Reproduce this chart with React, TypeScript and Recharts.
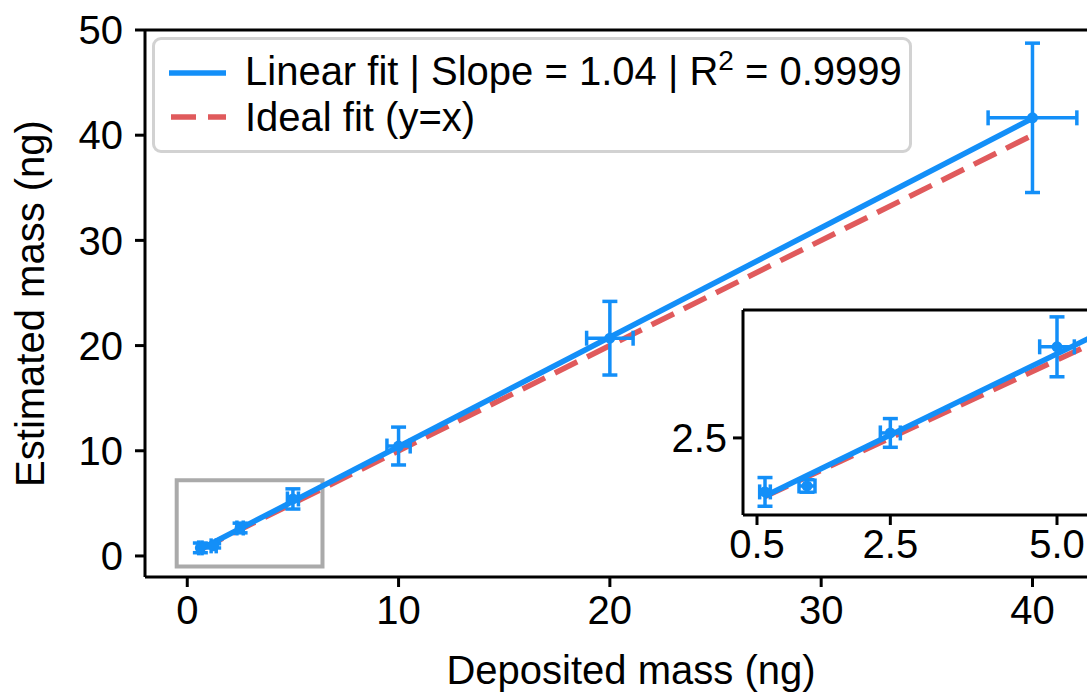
import {
  ComposedChart,
  Line,
  Scatter,
  ErrorBar,
  XAxis,
  YAxis,
  ReferenceLine,
  ReferenceArea,
  Label
} from "recharts";

const deposited = [0.62, 1.25, 2.5, 5, 10, 20, 40];
const estimated = [0.77, 0.96, 2.66, 5.42, 10.45, 20.7, 41.65];
const depositedErr = [0.08, 0.12, 0.15, 0.26, 0.55, 1.1, 2.1];
const estimatedErr = [0.46, 0.2, 0.46, 0.96, 1.8, 3.5, 7.1];

// fit line end points
const fitX = [0.62, 40];
const linearFitY = [0.64, 41.6];
const idealFitY = [0.62, 40];

const mainXTicks = [0, 10, 20, 30, 40];
const mainYTicks = [0, 10, 20, 30, 40, 50];
const insetXTicks = [0.5, 2.5, 5.0];
const insetYTicks = [2.5];

const zoomBoxX = [-0.5, 6.4];
const zoomBoxY = [-1, 7.2];

const BLUE = "#138ff8";
const RED = "#e05a5c";
const FONT = "'Liberation Sans', Arial, Helvetica, sans-serif";

const points = deposited.map((x, i) => ({
  x,
  y: estimated[i],
  ex: depositedErr[i],
  ey: estimatedErr[i]
}));
const linearFit = fitX.map((x, i) => ({ x, y: linearFitY[i] }));
const idealFit = fitX.map((x, i) => ({ x, y: idealFitY[i] }));

const axisStroke = { stroke: "#000", strokeWidth: 3 };
const tickFont = { fontSize: 40, fill: "#000", fontFamily: FONT };

const Dot = (props: any) => <circle cx={props.cx} cy={props.cy} r={5.5} fill={BLUE} />;

const YTitle = (props: any) => {
  const vb = props.viewBox;
  const cx = vb.x + 44;
  const cy = vb.y + vb.height / 2;
  return (
    <text x={cx} y={cy} transform={`rotate(-90 ${cx} ${cy})`} textAnchor="middle" fontSize={40} fontFamily={FONT} fill="#000">
      Estimated mass (ng)
    </text>
  );
};

const XTitle = (props: any) => {
  const vb = props.viewBox;
  return (
    <text x={vb.x + vb.width / 2} y={vb.y + 107} textAnchor="middle" fontSize={40} fontFamily={FONT} fill="#000">
      Deposited mass (ng)
    </text>
  );
};

export default function App() {
  const insetPoints = points.filter((p) => p.x < 5.6);
  return (
    <div style={{ position: "absolute", left: 0, top: 0, width: 1087, height: 693, overflow: "hidden", background: "#fff", fontFamily: FONT }}>
      <ComposedChart width={1117} height={693} margin={{ top: 30, right: 0, bottom: 0, left: 0 }}>
        <XAxis
          dataKey="x"
          type="number"
          domain={[-2, 44]}
          allowDataOverflow
          ticks={mainXTicks}
          height={116}
          tickSize={10}
          tickMargin={9}
          axisLine={axisStroke}
          tickLine={axisStroke}
          tick={tickFont}
        >
          <Label content={XTitle} />
        </XAxis>
        <YAxis
          dataKey="y"
          type="number"
          domain={[-2, 50]}
          allowDataOverflow
          ticks={mainYTicks}
          width={145}
          tickSize={10}
          tickMargin={12}
          axisLine={axisStroke}
          tickLine={axisStroke}
          tick={tickFont}
        >
          <Label content={YTitle} />
        </YAxis>
        <ReferenceLine y={50} stroke="#000" strokeWidth={3} />
        <ReferenceLine x={44} stroke="#000" strokeWidth={3} />
        <ReferenceArea x1={zoomBoxX[0]} x2={zoomBoxX[1]} y1={zoomBoxY[0]} y2={zoomBoxY[1]} fill="none" stroke="#aaaaaa" strokeWidth={4} />
        <Line data={idealFit} dataKey="y" type="linear" stroke={RED} strokeWidth={5.5} strokeDasharray="25 11" dot={false} isAnimationActive={false} />
        <Line data={linearFit} dataKey="y" type="linear" stroke={BLUE} strokeWidth={5.5} dot={false} isAnimationActive={false} />
        <Scatter data={points} dataKey="y" shape={Dot} isAnimationActive={false}>
          <ErrorBar dataKey="ex" direction="x" width={7.5} stroke={BLUE} strokeWidth={3.5} isAnimationActive={false} />
          <ErrorBar dataKey="ey" direction="y" width={7.5} stroke={BLUE} strokeWidth={3.5} isAnimationActive={false} />
        </Scatter>
      </ComposedChart>

      <div style={{ position: "absolute", left: 643, top: 300 }}>
        <ComposedChart width={454} height={275} margin={{ top: 10, right: 0, bottom: 0, left: 0 }}>
          <XAxis
            dataKey="x"
            type="number"
            domain={[0.29, 5.6]}
            allowDataOverflow
            ticks={insetXTicks}
            tickFormatter={(v: number) => v.toFixed(1)}
            height={60}
            tickSize={10}
            tickMargin={5}
            axisLine={axisStroke}
            tickLine={axisStroke}
            tick={tickFont}
          />
          <YAxis
            dataKey="y"
            type="number"
            domain={[0.03, 6.6]}
            allowDataOverflow
            ticks={insetYTicks}
            tickFormatter={(v: number) => v.toFixed(1)}
            width={100}
            tickSize={10}
            tickMargin={6}
            axisLine={axisStroke}
            tickLine={axisStroke}
            tick={tickFont}
          />
          <ReferenceLine y={6.6} stroke="#000" strokeWidth={3} />
          <Line data={idealFit} dataKey="y" type="linear" stroke={RED} strokeWidth={5.5} strokeDasharray="25 11" dot={false} isAnimationActive={false} />
          <Line data={linearFit} dataKey="y" type="linear" stroke={BLUE} strokeWidth={5.5} dot={false} isAnimationActive={false} />
          <Scatter data={insetPoints} dataKey="y" shape={Dot} isAnimationActive={false}>
            <ErrorBar dataKey="ex" direction="x" width={7.5} stroke={BLUE} strokeWidth={3.5} isAnimationActive={false} />
            <ErrorBar dataKey="ey" direction="y" width={7.5} stroke={BLUE} strokeWidth={3.5} isAnimationActive={false} />
          </Scatter>
        </ComposedChart>
      </div>

      <div
        style={{
          position: "absolute",
          left: 152,
          top: 37,
          width: 760,
          height: 116,
          boxSizing: "border-box",
          border: "3px solid #d2d2d2",
          borderRadius: 9,
          background: "rgba(255,255,255,0.8)",
          padding: "11px 0 0 11px",
          fontSize: 40,
          lineHeight: "44px",
          color: "#000",
          whiteSpace: "nowrap"
        }}
      >
        <div style={{ display: "flex", alignItems: "center", height: 44 }}>
          <svg width={60} height={44} style={{ flex: "none" }}>
            <line x1={3} x2={60} y1={22} y2={22} stroke={BLUE} strokeWidth={5.5} />
          </svg>
          <span style={{ marginLeft: 19 }}>
            Linear fit | Slope = 1.04 | R
            <span style={{ fontSize: 28, position: "relative", top: -15 }}>2</span> = 0.9999
          </span>
        </div>
        <div style={{ display: "flex", alignItems: "center", height: 44 }}>
          <svg width={60} height={44} style={{ flex: "none" }}>
            <line x1={5} x2={60} y1={22} y2={22} stroke={RED} strokeWidth={5.5} strokeDasharray="25 12" />
          </svg>
          <span style={{ marginLeft: 19 }}>Ideal fit (y=x)</span>
        </div>
      </div>
    </div>
  );
}
